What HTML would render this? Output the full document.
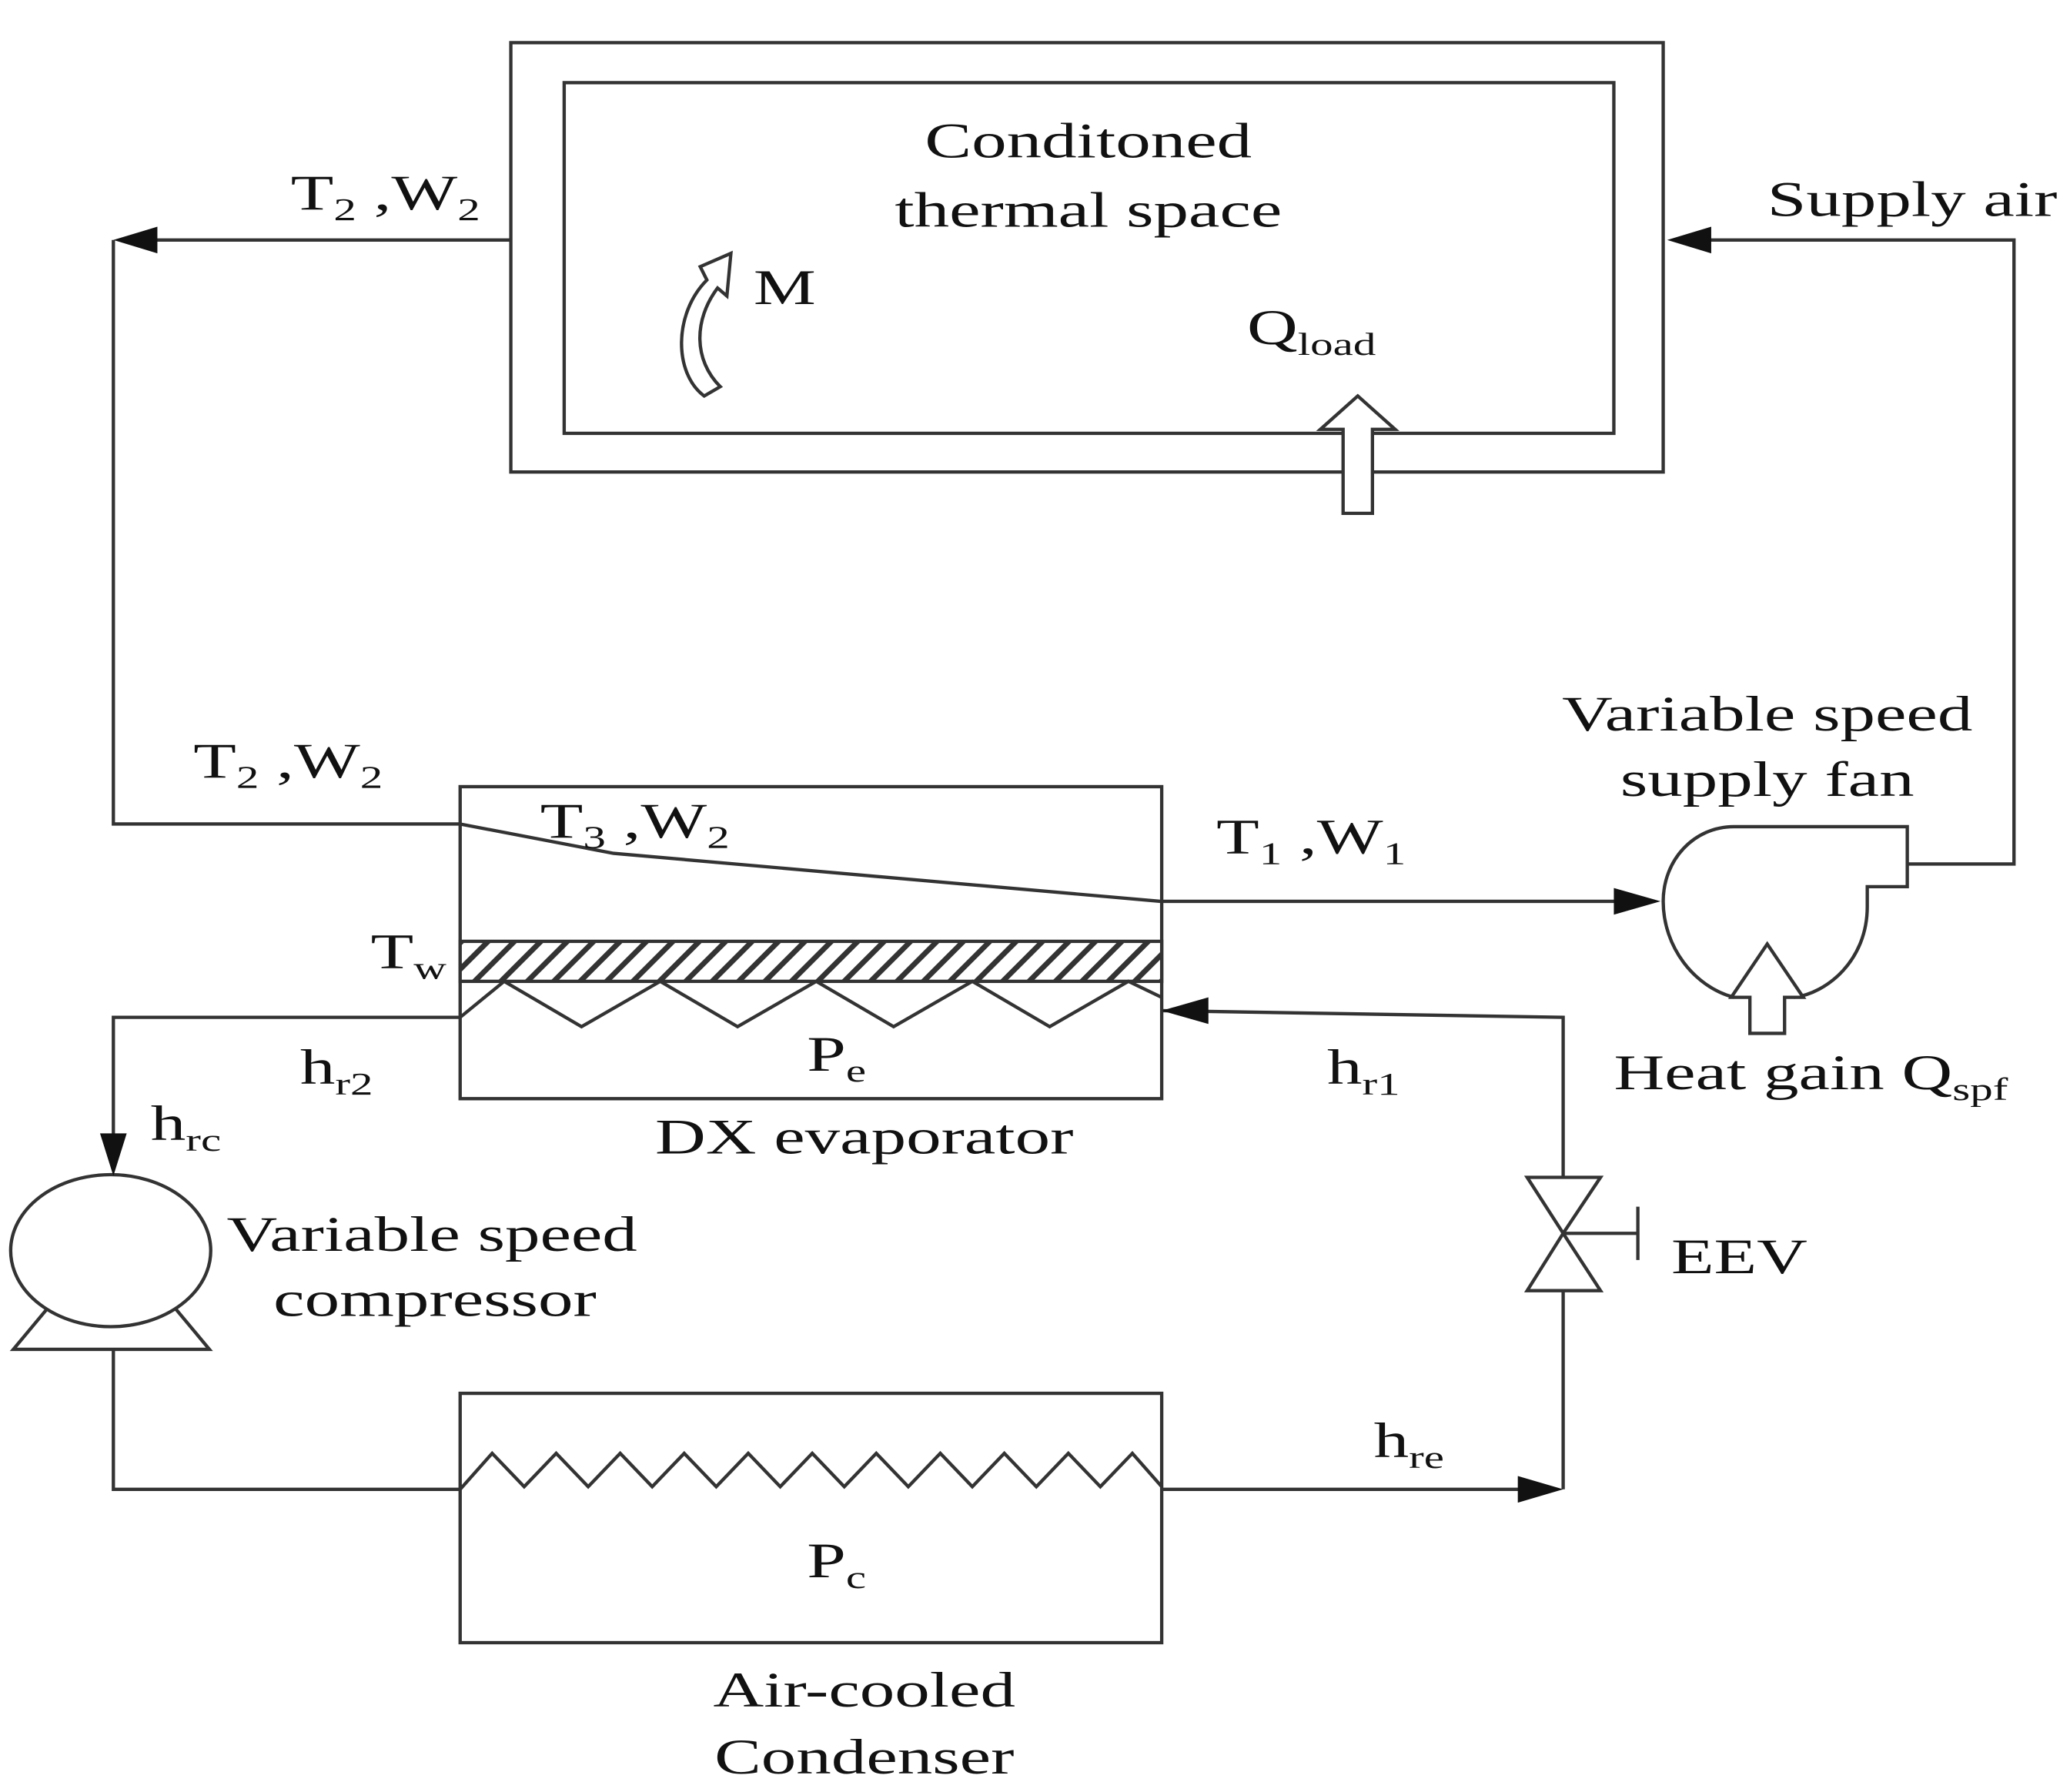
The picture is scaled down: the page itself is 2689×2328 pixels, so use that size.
<!DOCTYPE html>
<html><head><meta charset="utf-8"><style>
html,body{margin:0;padding:0;background:#fff;}
svg{display:block;}
text{font-family:"Liberation Serif",serif;fill:#111;}
</style></head><body>
<svg width="2689" height="2328" viewBox="0 0 1552 1344" preserveAspectRatio="none" xmlns="http://www.w3.org/2000/svg">
<defs>
<pattern id="h" width="14" height="14" patternUnits="userSpaceOnUse" patternTransform="rotate(45)">
<rect width="14" height="14" fill="#fff"/><rect x="0" y="0" width="4" height="14" fill="#333"/>
</pattern>
</defs>
<g fill="none" stroke="#333" stroke-width="2.5">
<rect x="383" y="32" width="864" height="322"/>
<rect x="423" y="62" width="787" height="263"/>
<polyline points="383,180 100,180"/>
<polyline points="85,180 85,618 345,618"/>
<polyline points="345,618 460,640 870,676 1215,676"/>
<polyline points="1430,648 1510,648 1510,180 1268,180"/>
<rect x="345" y="590" width="526" height="234"/>
<rect x="345" y="706" width="526" height="30" fill="url(#h)"/>
<polyline points="345,763 378,736 436,770 495,736 553,770 612,736 670,770 729,736 787,770 846,736 871,748"/>
<polyline points="345,763 85,763 85,860"/>
<polyline points="871,758 1172,763 1172,883"/>
<ellipse cx="83" cy="938" rx="75" ry="57"/>
<polyline points="35,982 10,1012 157,1012 132,982"/>
<polyline points="85,1012 85,1117 345,1117"/>
<rect x="345" y="1045" width="526" height="187"/>
<polyline points="345,1117 369,1090 393,1115 417,1090 441,1115 465,1090 489,1115 513,1090 537,1115 561,1090 585,1115 609,1090 633,1115 657,1090 681,1115 705,1090 729,1115 753,1090 777,1115 801,1090 825,1115 849,1090 871,1115"/>
<polyline points="871,1117 1150,1117"/>
<polyline points="1172,1117 1172,968"/>
<polygon points="1145,883 1200,883 1172,925"/>
<polygon points="1145,968 1200,968 1172,925"/>
<line x1="1172" y1="925" x2="1228" y2="925"/>
<line x1="1228" y1="905" x2="1228" y2="945"/>
<path d="M1300,620 L1430,620 L1430,665 L1400,665 L1400,680 C1400,720 1370,745 1345,748 M1300,748 C1270,740 1247,710 1247,676 C1247,645 1270,620 1300,620"/>
<path d="M1312,775 L1312,748 L1298,748 L1325,708 L1352,748 L1338,748 L1338,775 Z" fill="#fff"/>
<path d="M1007,385 L1007,322 L990,322 L1018,297 L1046,322 L1029,322 L1029,385 Z" fill="#fff"/>
<path d="M528,297 C505,280 505,235 530,210 L525,200 L548,190 L545,222 L538,216 C520,240 520,270 540,290 Z" fill="#fff"/>
</g>
<g fill="#111">
<polygon points="85,180 118,170 118,190"/>
<polygon points="1250,180 1283,170 1283,190"/>
<polygon points="1245,676 1210,666 1210,686"/>
<polygon points="871,758 906,748 906,768"/>
<polygon points="85,882 75,850 95,850"/>
<polygon points="1172,1117 1138,1107 1138,1127"/>
</g>
<g font-size="37">
<g transform="translate(816,118) scale(1.42,1)"><text text-anchor="middle">Conditoned</text></g>
<g transform="translate(816,170) scale(1.42,1)"><text text-anchor="middle">thermal space</text></g>
<g transform="translate(565,228) scale(1.42,1)"><text>M</text></g>
<g transform="translate(935,258) scale(1.42,1)"><text>Q<tspan font-size="24" dy="8">load</tspan></text></g>
<g transform="translate(218,157) scale(1.42,1)"><text>T<tspan font-size="24" dy="8">2</tspan><tspan dy="-8"> ,W</tspan><tspan font-size="24" dy="8">2</tspan></text></g>
<g transform="translate(1325,162) scale(1.42,1)"><text>Supply air</text></g>
<g transform="translate(145,583) scale(1.42,1)"><text>T<tspan font-size="24" dy="8">2</tspan><tspan dy="-8"> ,W</tspan><tspan font-size="24" dy="8">2</tspan></text></g>
<g transform="translate(405,628) scale(1.42,1)"><text>T<tspan font-size="24" dy="8">3</tspan><tspan dy="-8"> ,W</tspan><tspan font-size="24" dy="8">2</tspan></text></g>
<g transform="translate(912,640) scale(1.42,1)"><text>T<tspan font-size="24" dy="8">1</tspan><tspan dy="-8"> ,W</tspan><tspan font-size="24" dy="8">1</tspan></text></g>
<g transform="translate(1325,548) scale(1.42,1)"><text text-anchor="middle">Variable speed</text></g>
<g transform="translate(1325,597) scale(1.42,1)"><text text-anchor="middle">supply fan</text></g>
<g transform="translate(278,726) scale(1.42,1)"><text>T<tspan font-size="24" dy="8">w</tspan></text></g>
<g transform="translate(605,803) scale(1.42,1)"><text>P<tspan font-size="24" dy="8">e</tspan></text></g>
<g transform="translate(225,813) scale(1.42,1)"><text>h<tspan font-size="24" dy="8">r2</tspan></text></g>
<g transform="translate(995,813) scale(1.42,1)"><text>h<tspan font-size="24" dy="8">r1</tspan></text></g>
<g transform="translate(113,855) scale(1.42,1)"><text>h<tspan font-size="24" dy="8">rc</tspan></text></g>
<g transform="translate(648,865) scale(1.42,1)"><text text-anchor="middle">DX evaporator</text></g>
<g transform="translate(1210,817) scale(1.42,1)"><text>Heat gain Q<tspan font-size="24" dy="8">spf</tspan></text></g>
<g transform="translate(170,938) scale(1.42,1)"><text>Variable speed</text></g>
<g transform="translate(205,987) scale(1.42,1)"><text>compressor</text></g>
<g transform="translate(1253,955) scale(1.42,1)"><text>EEV</text></g>
<g transform="translate(1030,1093) scale(1.42,1)"><text>h<tspan font-size="24" dy="8">re</tspan></text></g>
<g transform="translate(605,1183) scale(1.42,1)"><text>P<tspan font-size="24" dy="8">c</tspan></text></g>
<g transform="translate(648,1280) scale(1.42,1)"><text text-anchor="middle">Air-cooled</text></g>
<g transform="translate(648,1330) scale(1.42,1)"><text text-anchor="middle">Condenser</text></g>
</g>
</svg>
</body></html>
